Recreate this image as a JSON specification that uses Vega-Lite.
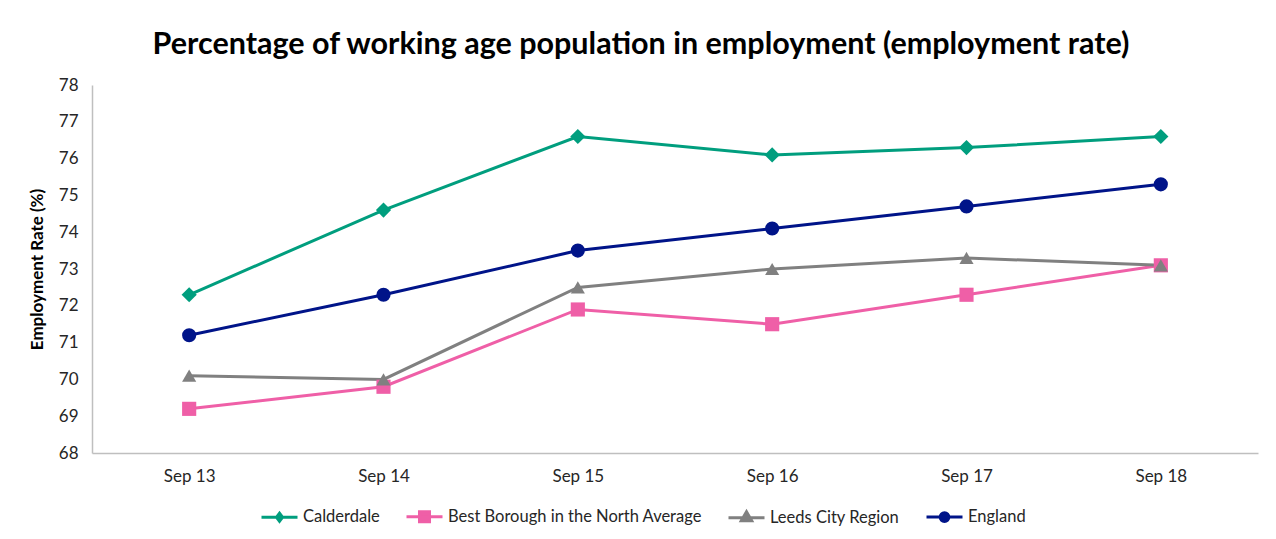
{
  "$schema": "https://vega.github.io/schema/vega-lite/v6.json",
  "width": 1166,
  "height": 368,
  "padding": {"left": 92, "top": 85, "right": 18, "bottom": 86},
  "autosize": {"type": "none"},
  "background": "white",
  "config": {
    "font": "Lato",
    "view": {"stroke": null},
    "axis": {"grid": false, "ticks": false, "domainColor": "#bfbfbf", "domainWidth": 1.5, "labelFontSize": 17, "labelColor": "#262626", "labelFont": "Lato"}
  },
  "title": {
    "text": "Percentage of working age population in employment (employment rate)",
    "fontSize": 30.5,
    "fontWeight": "bold",
    "font": "Lato",
    "color": "#000000",
    "anchor": "middle",
    "dx": -34,
    "offset": 16
  },
  "data": {
    "values": [
      {"period": "Sep 13", "series": "Calderdale", "rate": 72.3},
      {"period": "Sep 14", "series": "Calderdale", "rate": 74.6},
      {"period": "Sep 15", "series": "Calderdale", "rate": 76.6},
      {"period": "Sep 16", "series": "Calderdale", "rate": 76.1},
      {"period": "Sep 17", "series": "Calderdale", "rate": 76.3},
      {"period": "Sep 18", "series": "Calderdale", "rate": 76.6},
      {"period": "Sep 13", "series": "Best Borough in the North Average", "rate": 69.2},
      {"period": "Sep 14", "series": "Best Borough in the North Average", "rate": 69.8},
      {"period": "Sep 15", "series": "Best Borough in the North Average", "rate": 71.9},
      {"period": "Sep 16", "series": "Best Borough in the North Average", "rate": 71.5},
      {"period": "Sep 17", "series": "Best Borough in the North Average", "rate": 72.3},
      {"period": "Sep 18", "series": "Best Borough in the North Average", "rate": 73.1},
      {"period": "Sep 13", "series": "Leeds City Region", "rate": 70.1},
      {"period": "Sep 14", "series": "Leeds City Region", "rate": 70.0},
      {"period": "Sep 15", "series": "Leeds City Region", "rate": 72.5},
      {"period": "Sep 16", "series": "Leeds City Region", "rate": 73.0},
      {"period": "Sep 17", "series": "Leeds City Region", "rate": 73.3},
      {"period": "Sep 18", "series": "Leeds City Region", "rate": 73.1},
      {"period": "Sep 13", "series": "England", "rate": 71.2},
      {"period": "Sep 14", "series": "England", "rate": 72.3},
      {"period": "Sep 15", "series": "England", "rate": 73.5},
      {"period": "Sep 16", "series": "England", "rate": 74.1},
      {"period": "Sep 17", "series": "England", "rate": 74.7},
      {"period": "Sep 18", "series": "England", "rate": 75.3}
    ]
  },
  "encoding": {
    "x": {
      "field": "period", "type": "ordinal", "title": null,
      "scale": {"type": "point", "padding": 0.5},
      "axis": {"labelAngle": 0, "labelPadding": 15}
    },
    "y": {
      "field": "rate", "type": "quantitative",
      "scale": {"domain": [68, 78], "zero": false, "nice": false},
      "axis": {"values": [68, 69, 70, 71, 72, 73, 74, 75, 76, 77, 78], "labelPadding": 14, "title": "Employment Rate (%)", "titleFontSize": 17, "titleFontWeight": "bold", "titleColor": "#000000", "titlePadding": 12, "titleFont": "Lato"}
    },
    "color": {
      "field": "series", "type": "nominal",
      "scale": {"domain": ["Calderdale", "Best Borough in the North Average", "Leeds City Region", "England"], "range": ["#009e7e", "#ef5fa7", "#808080", "#001489"]}
    }
  },
  "layer": [
    {
      "mark": {"type": "line", "strokeWidth": 3}
    },
    {
      "transform": [{"filter": "datum.series === 'Calderdale'"}],
      "mark": {"type": "point", "filled": true, "opacity": 1, "shape": "diamond", "size": 230}
    },
    {
      "transform": [{"filter": "datum.series === 'Best Borough in the North Average'"}],
      "mark": {"type": "point", "filled": true, "opacity": 1, "shape": "square", "size": 200}
    },
    {
      "transform": [{"filter": "datum.series === 'Leeds City Region'"}],
      "mark": {"type": "point", "filled": true, "opacity": 1, "shape": "triangle-up", "size": 200}
    },
    {
      "transform": [{"filter": "datum.series === 'England'"}],
      "mark": {"type": "point", "filled": true, "opacity": 1, "shape": "circle", "size": 200}
    },
    {
      "mark": {"type": "point", "filled": true, "opacity": 0, "strokeWidth": 3},
      "encoding": {
        "color": {
          "field": "series", "type": "nominal",
          "legend": {
            "title": null, "orient": "none", "direction": "horizontal", "legendX": 166, "legendY": 410,
            "symbolSize": 1600, "symbolOpacity": 1, "symbolStrokeWidth": 3,
            "labelFontSize": 16.5, "labelFont": "Lato", "labelColor": "#262626", "labelOffset": 2, "labelLimit": 0, "columnPadding": 20
          }
        },
        "stroke": {
          "field": "series", "type": "nominal",
          "scale": {"domain": ["Calderdale", "Best Borough in the North Average", "Leeds City Region", "England"], "range": ["#009e7e", "#ef5fa7", "#808080", "#001489"]}
        },
        "shape": {
          "field": "series", "type": "nominal",
          "scale": {"domain": ["Calderdale", "Best Borough in the North Average", "Leeds City Region", "England"], "range": [
            "M-0.9,0H0.9M0,-0.2L0.15,0L0,0.2L-0.15,0Z",
            "M-0.9,0H0.9M-0.25,-0.25H0.25V0.25H-0.25Z",
            "M-0.9,0H0.9M0,-0.3L0.26,0.15H-0.26Z",
            "M-0.9,0H0.9M-0.22,0A0.22,0.22,0,1,0,0.22,0A0.22,0.22,0,1,0,-0.22,0Z"
          ]}
        },
        "size": {"value": 1600}
      }
    }
  ]
}
